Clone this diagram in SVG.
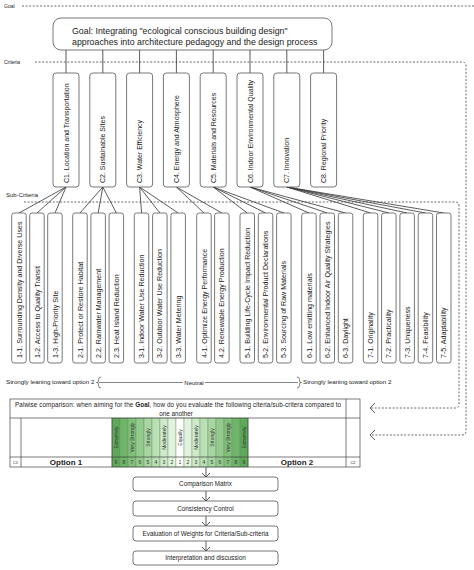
<svg xmlns="http://www.w3.org/2000/svg" width="474" height="570" viewBox="0 0 474 570">
<style>
text{font-family:"Liberation Sans",Arial,sans-serif;fill:#222}
.lbl{font-size:5.5px}
.box{fill:#fff;stroke:#555;stroke-width:0.8}
.ct{font-size:7px}
.st{font-size:7.1px}
.dash{fill:none;stroke:#444;stroke-width:0.8;stroke-dasharray:2,1.6}
.ln{fill:none;stroke:#333;stroke-width:0.8}
.cell{stroke:#5f8f5a;stroke-width:0.4}
.gl{font-size:5px;text-anchor:middle;fill:#333}
.num{font-size:5px;text-anchor:middle;fill:#333}
.tb{fill:none;stroke:#444;stroke-width:0.7}
.ft{font-size:6.3px;text-anchor:middle}
</style>
<rect width="474" height="570" fill="#fff"/>

<g id="level-labels">
<text x="4" y="8" class="lbl" style="font-size:5px">Goal</text>
<text x="4" y="64" class="lbl" style="font-size:5px">Criteria</text>
<text x="6" y="197" class="lbl" style="font-size:6px">Sub-Criteria</text>
</g>

<g id="connectors">
<path class="dash" d="M22,6 H474"/>
<path class="dash" d="M35,62 H462 Q466,62 466,66 V431 Q466,435 462,435 H371"/>
<path class="dash" d="M24,202 H455 Q459,202 459,206 V404 Q459,408 455,408 H371"/>
<path class="ln" d="M375,403 L370,408 L375,413 M375,430 L370,435 L375,440"/>
<g class="ln">
<path d="M66,50V73 M102.8,50V73 M139.6,50V73 M176.4,50V73 M213.2,50V73 M250,50V73 M286.8,50V73 M323.6,50V73"/>
<path d="M66,187L19,213 M66,187L37,213 M66,187L55,213"/>
<path d="M102.8,187L80,213 M102.8,187L98.2,213 M102.8,187L116.4,213"/>
<path d="M139.6,187L141.6,213 M139.6,187L159.9,213 M139.6,187L178.2,213"/>
<path d="M176.4,187L204,213 M176.4,187L221.9,213"/>
<path d="M213.2,187L247.3,213 M213.2,187L265.6,213 M213.2,187L283.9,213"/>
<path d="M250,187L309,213 M250,187L327.3,213 M250,187L345.6,213"/>
<path d="M286.8,187L370.6,213 M286.8,187L388.9,213 M286.8,187L407.2,213 M286.8,187L425.5,213 M286.8,187L443.8,213"/>
</g>
<path class="ln" d="M206,467V477 M202,473L206,477L210,473 M206,491V501 M202,497L206,501L210,497 M206,516V526 M202,522L206,526L210,522 M206,541V551 M202,547L206,551L210,547"/>
</g>

<g id="goal">
<rect class="box" x="53" y="18" width="279" height="32" rx="8"/>
<text x="72" y="34" style="font-size:8.8px">Goal: Integrating "ecological conscious building design"</text>
<text x="72" y="45" style="font-size:8.8px">approaches into architecture pedagogy and the design process</text>
</g>

<g id="criteria">
<g id="c1"><rect class="box" x="53" y="73" width="26" height="114" rx="3"/><text class="ct" transform="translate(68.5,183) rotate(-90)">C1. Location and Transportation</text></g>
<g id="c2"><rect class="box" x="89.8" y="73" width="26" height="114" rx="3"/><text class="ct" transform="translate(105.3,183) rotate(-90)">C2. Sustainable Sites</text></g>
<g id="c3"><rect class="box" x="126.6" y="73" width="26" height="114" rx="3"/><text class="ct" transform="translate(142.1,183) rotate(-90)">C3. Water Efficiency</text></g>
<g id="c4"><rect class="box" x="163.4" y="73" width="26" height="114" rx="3"/><text class="ct" transform="translate(178.9,183) rotate(-90)">C4. Energy and Atmosphere</text></g>
<g id="c5"><rect class="box" x="200.2" y="73" width="26" height="114" rx="3"/><text class="ct" transform="translate(215.7,183) rotate(-90)">C5. Materials and Resources</text></g>
<g id="c6"><rect class="box" x="237" y="73" width="26" height="114" rx="3"/><text class="ct" transform="translate(252.5,183) rotate(-90)">C6. Indoor Environmental Quality</text></g>
<g id="c7"><rect class="box" x="273.8" y="73" width="26" height="114" rx="3"/><text class="ct" transform="translate(289.3,183) rotate(-90)">C7. Innovation</text></g>
<g id="c8"><rect class="box" x="310.6" y="73" width="26" height="114" rx="3"/><text class="ct" transform="translate(326.1,183) rotate(-90)">C8. Regional Priority</text></g>
</g>

<g id="sub-criteria">
<g id="s1-1"><rect class="box" x="11.7" y="213" width="14.5" height="150" rx="2.5"/><text class="st" transform="translate(21.5,358) rotate(-90)">1-1. Surrounding Density and Diverse Uses</text></g>
<g id="s1-2"><rect class="box" x="29.7" y="213" width="14.5" height="150" rx="2.5"/><text class="st" transform="translate(39.5,358) rotate(-90)">1-2. Access to Quality Transit</text></g>
<g id="s1-3"><rect class="box" x="47.7" y="213" width="14.5" height="150" rx="2.5"/><text class="st" transform="translate(57.5,358) rotate(-90)">1-3. High-Priority Site</text></g>
<g id="s2-1"><rect class="box" x="72.7" y="213" width="14.5" height="150" rx="2.5"/><text class="st" transform="translate(82.5,358) rotate(-90)">2-1. Protect or Restore Habitat</text></g>
<g id="s2-2"><rect class="box" x="90.9" y="213" width="14.5" height="150" rx="2.5"/><text class="st" transform="translate(100.7,358) rotate(-90)">2.2. Rainwater Management</text></g>
<g id="s2-3"><rect class="box" x="109.1" y="213" width="14.5" height="150" rx="2.5"/><text class="st" transform="translate(118.9,358) rotate(-90)">2.3. Heat Island Reduction</text></g>
<g id="s3-1"><rect class="box" x="134.3" y="213" width="14.5" height="150" rx="2.5"/><text class="st" transform="translate(144.1,358) rotate(-90)">3-1. Indoor Water Use Reduction</text></g>
<g id="s3-2"><rect class="box" x="152.6" y="213" width="14.5" height="150" rx="2.5"/><text class="st" transform="translate(162.4,358) rotate(-90)">3-2. Outdoor Water Use Reduction</text></g>
<g id="s3-3"><rect class="box" x="170.9" y="213" width="14.5" height="150" rx="2.5"/><text class="st" transform="translate(180.7,358) rotate(-90)">3-3. Water Metering</text></g>
<g id="s4-1"><rect class="box" x="196.7" y="213" width="14.5" height="150" rx="2.5"/><text class="st" transform="translate(206.5,358) rotate(-90)">4-1. Optimize Energy Performance</text></g>
<g id="s4-2"><rect class="box" x="214.6" y="213" width="14.5" height="150" rx="2.5"/><text class="st" transform="translate(224.4,358) rotate(-90)">4.2. Renewable Energy Production</text></g>
<g id="s5-1"><rect class="box" x="240" y="213" width="14.5" height="150" rx="2.5"/><text class="st" transform="translate(249.8,358) rotate(-90)">5-1. Building Life-Cycle Impact Reduction</text></g>
<g id="s5-2"><rect class="box" x="258.3" y="213" width="14.5" height="150" rx="2.5"/><text class="st" transform="translate(268.1,358) rotate(-90)">5-2. Environmental Product Declarations</text></g>
<g id="s5-3"><rect class="box" x="276.6" y="213" width="14.5" height="150" rx="2.5"/><text class="st" transform="translate(286.4,358) rotate(-90)">5-3. Sourcing of Raw Materials</text></g>
<g id="s6-1"><rect class="box" x="301.7" y="213" width="14.5" height="150" rx="2.5"/><text class="st" transform="translate(311.5,358) rotate(-90)">6-1. Low emitting materials</text></g>
<g id="s6-2"><rect class="box" x="320" y="213" width="14.5" height="150" rx="2.5"/><text class="st" transform="translate(329.8,358) rotate(-90)">6-2. Enhanced Indoor Air Quality Strategies</text></g>
<g id="s6-3"><rect class="box" x="338.3" y="213" width="14.5" height="150" rx="2.5"/><text class="st" transform="translate(348.1,358) rotate(-90)">6-3. Daylight</text></g>
<g id="s7-1"><rect class="box" x="363.3" y="213" width="14.5" height="150" rx="2.5"/><text class="st" transform="translate(373.1,358) rotate(-90)">7-1. Originality</text></g>
<g id="s7-2"><rect class="box" x="381.6" y="213" width="14.5" height="150" rx="2.5"/><text class="st" transform="translate(391.4,358) rotate(-90)">7-2. Practicality</text></g>
<g id="s7-3"><rect class="box" x="399.9" y="213" width="14.5" height="150" rx="2.5"/><text class="st" transform="translate(409.7,358) rotate(-90)">7-3. Uniqueness</text></g>
<g id="s7-4"><rect class="box" x="418.2" y="213" width="14.5" height="150" rx="2.5"/><text class="st" transform="translate(428,358) rotate(-90)">7-4. Feasibility</text></g>
<g id="s7-5"><rect class="box" x="436.5" y="213" width="14.5" height="150" rx="2.5"/><text class="st" transform="translate(446.3,358) rotate(-90)">7-5. Adaptability</text></g>
</g>

<g id="scale">
<text x="6" y="384" style="font-size:6.2px">Strongly leaning toward option 2</text>
<path class="ln" style="stroke-width:0.6" d="M101,377 Q98.5,377 98.5,379.5 V381 Q98.5,382.5 96.5,382.5 Q98.5,382.5 98.5,384 V385.5 Q98.5,388 101,388"/>
<path class="ln" style="stroke-width:0.6" d="M99,382.5 H183 M205,382.5 H298"/>
<text x="194" y="384.5" style="font-size:6px;text-anchor:middle">Neutral</text>
<path class="ln" style="stroke-width:0.6" d="M297,377 Q299.5,377 299.5,379.5 V381 Q299.5,382.5 301.5,382.5 Q299.5,382.5 299.5,384 V385.5 Q299.5,388 297,388"/>
<text x="303" y="384" style="font-size:6.2px">Strongly leaning toward option 2</text>
</g>

<g id="comparison-table">
<rect x="10" y="399" width="350" height="68" fill="#fff"/>
<g id="scale-cells">
<rect class="cell" x="112" y="418" width="8" height="49" fill="#5ea85a"/>
<rect class="cell" x="120" y="418" width="8" height="49" fill="#6fb46a"/>
<rect class="cell" x="128" y="418" width="8" height="49" fill="#82bf7c"/>
<rect class="cell" x="136" y="418" width="8" height="49" fill="#95ca8f"/>
<rect class="cell" x="144" y="418" width="8" height="49" fill="#a8d5a2"/>
<rect class="cell" x="152" y="418" width="8" height="49" fill="#bbdfb5"/>
<rect class="cell" x="160" y="418" width="8" height="49" fill="#cfe9ca"/>
<rect class="cell" x="168" y="418" width="8" height="49" fill="#e3f2df"/>
<rect class="cell" x="176" y="418" width="8" height="49" fill="#ffffff"/>
<rect class="cell" x="184" y="418" width="8" height="49" fill="#e3f2df"/>
<rect class="cell" x="192" y="418" width="8" height="49" fill="#cfe9ca"/>
<rect class="cell" x="200" y="418" width="8" height="49" fill="#bbdfb5"/>
<rect class="cell" x="208" y="418" width="8" height="49" fill="#a8d5a2"/>
<rect class="cell" x="216" y="418" width="8" height="49" fill="#95ca8f"/>
<rect class="cell" x="224" y="418" width="8" height="49" fill="#82bf7c"/>
<rect class="cell" x="232" y="418" width="8" height="49" fill="#6fb46a"/>
<rect class="cell" x="240" y="418" width="8" height="49" fill="#5ea85a"/>
</g>
<g id="scale-labels">
<text class="gl" transform="translate(117.8,437.5) rotate(-90)">Extremely</text>
<text class="gl" transform="translate(133.8,437.5) rotate(-90)">Very Strongly</text>
<text class="gl" transform="translate(149.8,437.5) rotate(-90)">Strongly</text>
<text class="gl" transform="translate(165.8,437.5) rotate(-90)">Moderately</text>
<text class="gl" transform="translate(181.8,437.5) rotate(-90)">Equally</text>
<text class="gl" transform="translate(197.8,437.5) rotate(-90)">Moderately</text>
<text class="gl" transform="translate(213.8,437.5) rotate(-90)">Strongly</text>
<text class="gl" transform="translate(229.8,437.5) rotate(-90)">Very Strongly</text>
<text class="gl" transform="translate(245.8,437.5) rotate(-90)">Extremely</text>
</g>
<g id="scale-numbers">
<text class="num" x="116" y="464">9</text><text class="num" x="124" y="464">8</text><text class="num" x="132" y="464">7</text><text class="num" x="140" y="464">6</text><text class="num" x="148" y="464">5</text><text class="num" x="156" y="464">4</text><text class="num" x="164" y="464">3</text><text class="num" x="172" y="464">2</text><text class="num" x="180" y="464">1</text><text class="num" x="188" y="464">2</text><text class="num" x="196" y="464">3</text><text class="num" x="204" y="464">4</text><text class="num" x="212" y="464">5</text><text class="num" x="220" y="464">6</text><text class="num" x="228" y="464">7</text><text class="num" x="236" y="464">8</text><text class="num" x="244" y="464">9</text>
</g>
<rect class="tb" x="10" y="399" width="350" height="68"/>
<path class="tb" d="M10,418H360 M10,457H360 M21,418V467 M112,418V467 M248,418V467 M346,399V467"/>
<text x="15" y="406.5" style="font-size:6.3px" textLength="326" lengthAdjust="spacing">Palwise comparison: when aiming for the <tspan font-weight="bold">Goal</tspan>, how do you evaluate the following citeria/sub-critera compared to</text>
<text x="176" y="415.5" style="font-size:6.3px;text-anchor:middle">one another</text>
<text x="15.5" y="464" style="font-size:4px;text-anchor:middle">C1</text>
<text x="66" y="465" style="font-size:8px;font-weight:bold;text-anchor:middle">Option 1</text>
<text x="297" y="465" style="font-size:8px;font-weight:bold;text-anchor:middle">Option 2</text>
<text x="353" y="464" style="font-size:4px;text-anchor:middle">C2</text>
</g>

<g id="flow">
<g id="comparison-matrix"><rect class="box" x="133" y="477" width="145" height="14" rx="3"/><text class="ft" x="205.5" y="486.3">Comparison Matrix</text></g>
<g id="consistency-control"><rect class="box" x="133" y="501" width="145" height="15" rx="3"/><text class="ft" x="205.5" y="510.8">Consistency Control</text></g>
<g id="evaluation-weights"><rect class="box" x="133" y="526" width="145" height="15" rx="3"/><text class="ft" x="205.5" y="535.8">Evaluation of Weights for Criteria/Sub-criteria</text></g>
<g id="interpretation"><rect class="box" x="133" y="551" width="145" height="14" rx="3"/><text class="ft" x="205.5" y="560.3">Interpretation and discussion</text></g>
</g>
</svg>
